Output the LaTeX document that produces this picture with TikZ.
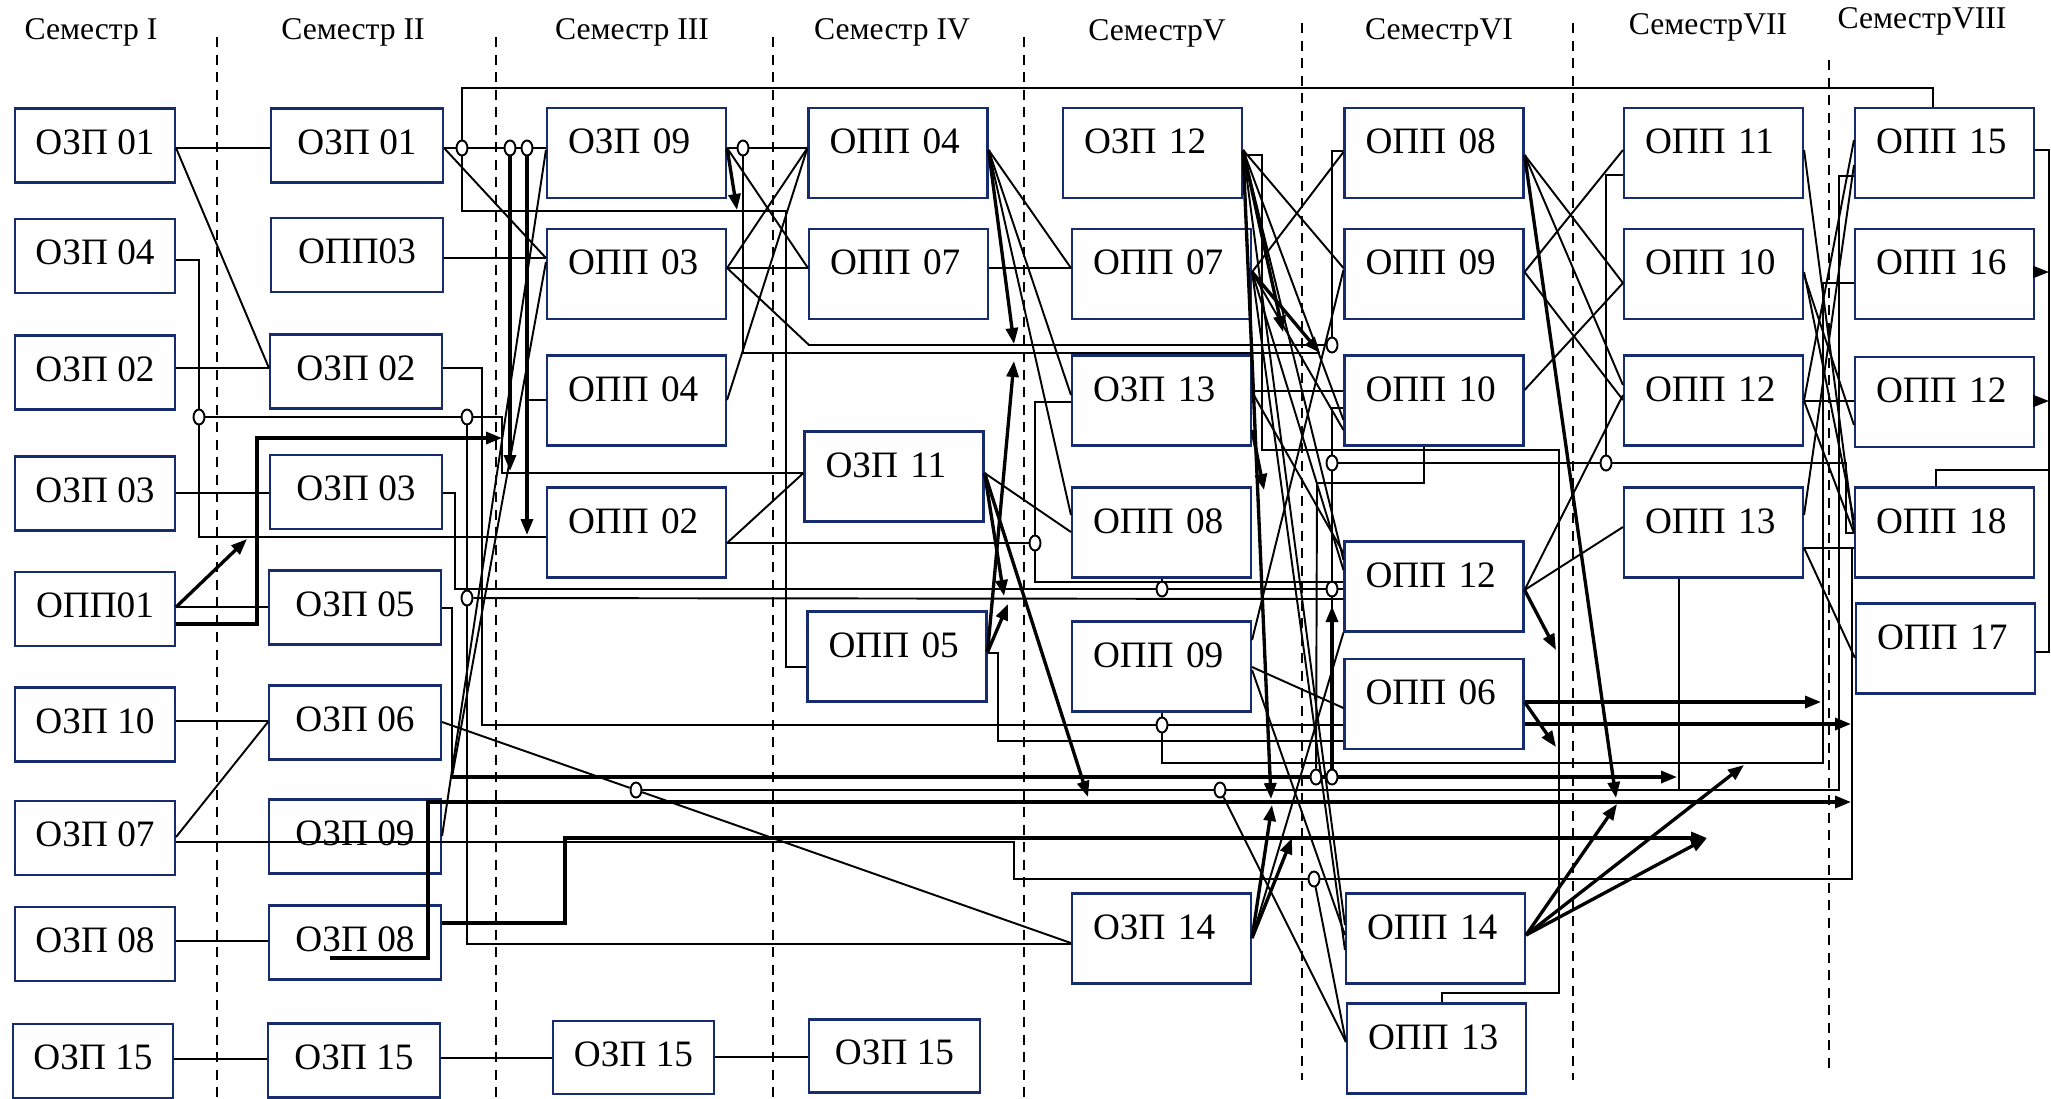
\documentclass[tikz,border=0pt]{standalone}
\usepackage{fontspec}
\setmainfont{Liberation Serif}
\usetikzlibrary{arrows.meta,shapes.geometric}
\definecolor{boxblue}{RGB}{22,44,110}

\begin{document}
\begin{tikzpicture}[x=0.1mm,y=-0.1mm,line width=0.55pt,
    kbox/.style={draw=boxblue,line width=0.6pt,inner sep=0pt,font=\fontsize{10.6}{12}\selectfont,text height=2.5mm},
    semone/.style={kbox,minimum width=16mm,minimum height=7.4mm,text depth=0.8mm},
    semtwo/.style={kbox,minimum width=17.2mm,minimum height=7.4mm,text depth=0.8mm},
    flatbox/.style={kbox,minimum height=7.3mm,text depth=0.8mm},
    upper/.style={kbox,minimum width=17.9mm,minimum height=9mm,text depth=2.4mm,text width=13.7mm,align=left},
    semhead/.style={inner sep=0pt,font=\fontsize{9}{11}\selectfont},
    divider/.style={line width=0.5pt,dash pattern=on 1mm off 0.75mm},
    junc/.style={draw,ellipse,fill=white,line width=0.55pt,inner sep=0pt,minimum width=1.1mm,minimum height=1.5mm},
    thk/.style={line width=0.95pt},
    tip/.style={-{Triangle[length=1.6mm,width=1.2mm]}}]
\useasboundingbox (0,0) rectangle (2051,1098);

% Semester headers
\node[semhead] (h1) at (91,32) {Семестр I};
\node[semhead] (h2) at (353,32) {Семестр II};
\node[semhead] (h3) at (632,32) {Семестр III};
\node[semhead] (h4) at (892,32) {Семестр IV};
\node[semhead] (h5) at (1157,33) {СеместрV};
\node[semhead] (h6) at (1439,32) {СеместрVI};
\node[semhead] (h7) at (1708,27) {СеместрVII};
\node[semhead] (h8) at (1922,21) {СеместрVIII};

% Semester borders
\foreach \x/\top/\bot in {217/37/1098,496/37/1098,773/37/1098,1024/37/1098,1302/23/1080,1573/23/1080,1829/60/1072}
  \draw[divider] (\x,\top) -- (\x,\bot);

% Semester I
\node[semone] (s1o01) at (95,145.5) {ОЗП 01};
\node[semone] (s1o04) at (95,256) {ОЗП 04};
\node[semone] (s1o02) at (95,372.5) {ОЗП 02};
\node[semone] (s1o03) at (95,493.5) {ОЗП 03};
\node[semone] (s1p01) at (95,609) {ОПП01};
\node[semone] (s1o10) at (95,724.5) {ОЗП 10};
\node[semone] (s1o07) at (95,838) {ОЗП 07};
\node[semone] (s1o08) at (95,944) {ОЗП 08};
\node[semone] (s1o15) at (93,1061) {ОЗП 15};

% Semester II
\node[semtwo] (s2o01) at (357,145.5) {ОЗП 01};
\node[semtwo] (s2p03) at (357,255) {ОПП03};
\node[semtwo] (s2o02) at (356,371.5) {ОЗП 02};
\node[semtwo] (s2o03) at (356,492) {ОЗП 03};
\node[semtwo] (s2o05) at (355,607.5) {ОЗП 05};
\node[semtwo] (s2o06) at (355,722.5) {ОЗП 06};
\node[semtwo] (s2o09) at (355,836.5) {ОЗП 09};
\node[semtwo] (s2o08) at (355,942.5) {ОЗП 08};
\node[semtwo] (s2o15) at (354,1060.5) {ОЗП 15};

% Semester III
\node[upper] (s3o09) at (636.5,153) {ОЗП 09};
\node[upper] (s3p03) at (636.5,274) {ОПП 03};
\node[upper] (s3p04) at (636.5,400.5) {ОПП 04};
\node[upper] (s3p02) at (636.5,532.5) {ОПП 02};
\node[flatbox,minimum width=16.1mm] (s3o15) at (633.5,1057.5) {ОЗП 15};

% Semester IV
\node[upper] (s4p04) at (898,153) {ОПП 04};
\node[upper] (s4p07) at (898.5,274) {ОПП 07};
\node[upper] (s4o11) at (894,476.5) {ОЗП 11};
\node[upper] (s4p05) at (897,656.5) {ОПП 05};
\node[flatbox,minimum width=17.1mm] (s4o15) at (894.5,1056) {ОЗП 15};

% Semester V
\node[upper] (s5o12) at (1152.5,153) {ОЗП 12};
\node[upper] (s5p07) at (1161.5,274) {ОПП 07};
\node[upper] (s5o13) at (1161.5,400.5) {ОЗП 13};
\node[upper] (s5p08) at (1161.5,532.5) {ОПП 08};
\node[upper] (s5p09) at (1161.5,666.5) {ОПП 09};
\node[upper] (s5o14) at (1161.5,938.5) {ОЗП 14};

% Semester VI
\node[upper] (s6p08) at (1434,153) {ОПП 08};
\node[upper] (s6p09) at (1434,274) {ОПП 09};
\node[upper] (s6p10) at (1434,400.5) {ОПП 10};
\node[upper] (s6p12) at (1434,586.5) {ОПП 12};
\node[upper] (s6p06) at (1434,704) {ОПП 06};
\node[upper] (s6p14) at (1435.5,938.5) {ОПП 14};
\node[upper] (s6p13) at (1436.5,1048.5) {ОПП 13};

% Semester VII
\node[upper] (s7p11) at (1713.5,153) {ОПП 11};
\node[upper] (s7p10) at (1713.5,274) {ОПП 10};
\node[upper] (s7p12) at (1713.5,400.5) {ОПП 12};
\node[upper] (s7p13) at (1713.5,532.5) {ОПП 13};

% Semester VIII
\node[upper] (s8p15) at (1944.5,153) {ОПП 15};
\node[upper] (s8p16) at (1944.5,274) {ОПП 16};
\node[upper] (s8p12) at (1944.5,402) {ОПП 12};
\node[upper] (s8p18) at (1944.5,532.5) {ОПП 18};
\node[upper] (s8p17) at (1945.5,648.5) {ОПП 17};

% Junctions
\foreach \n/\x/\y in {j1/462/148,j2/510/148,j3/527/148,j4/743/148,j5/199/417,j6/467/417,j7/467/598,
    j8/1035/543,j9/1162/589,j10/1332/589,j11/1332/345,j12/1332/463,j13/1606/463,j14/1162/725,
    j15/636/790,j16/1220/790,j17/1316/777,j18/1332/777,j19/1314/879}
  \node[junc] (\n) at (\x,\y) {};

% Free ends
\coordinate (tA) at (502,438);  \coordinate (tB) at (247,539);
\coordinate (tC) at (510,471);  \coordinate (tD) at (527,535);
\coordinate (tE) at (737,210);  \coordinate (tF) at (1014,344);
\coordinate (tG) at (1014,361); \coordinate (tH) at (1004,596);
\coordinate (tI) at (1008,604); \coordinate (tJ) at (1088,797);
\coordinate (tK) at (1320,353); \coordinate (tL) at (1283,332);
\coordinate (tM) at (1264,490); \coordinate (tN) at (1271,799);
\coordinate (tO) at (1272,805); \coordinate (tP) at (1292,838);
\coordinate (tQ) at (1332,606); \coordinate (tR) at (1556,650);
\coordinate (tS) at (1821,702); \coordinate (tT) at (1851,724);
\coordinate (tU) at (1556,747); \coordinate (tV) at (1617,804);
\coordinate (tVa) at (1616,798); \coordinate (tW) at (1744,765);
\coordinate (tX) at (1707,838); \coordinate (tY) at (1677,777);
\coordinate (tZ) at (1851,802);
\coordinate (e1) at (1852,548); \coordinate (e2) at (1679,790);
\coordinate (e3) at (330,958);  \coordinate (e4) at (2049,272);
\coordinate (e5) at (2049,401); \coordinate (e6) at (2049,470);
\coordinate (e7) at (452,777);  \coordinate (e8) at (527,400);

% Semester I -> II
\draw (s1o01.east |- 0,148) -- (s2o01.west |- 0,148);
\draw (s1o01.east |- 0,148) -- (s2o02.west |- 0,368);
\draw (s1o04.east |- 0,260) -| (j5);
\draw (j5) -- (199,537) -- (s3p02.west |- 0,537);
\draw (j5) -- (j6);
\draw (j6) -- (502,417) -- (502,473) -- (s4o11.west |- 0,473);
\draw (j6) -- (j7);
\draw (j7) -- (467,944) -- (s5o14.west |- 0,944);
\draw (j7) -- (s6p12.west |- 0,599);
\draw (s1o02.east |- 0,368) -- (s2o02.west |- 0,368);
\draw (s1o03.east |- 0,493) -- (s2o03.west |- 0,493);
\draw (s1p01.east |- 0,607) -- (s2o05.west |- 0,607);
\draw[thk,tip] (s1p01.east |- 0,607) -- (tB);
\draw[thk,tip] (s1p01.east |- 0,624) -- (257,624) -- (257,438) -- (tA);
\draw (s1o10.east |- 0,721) -- (s2o06.west |- 0,721);
\draw (s1o07.east |- 0,837) -- (s2o06.west |- 0,722);
\draw (s1o07.east |- 0,842) -- (1014,842) -- (1014,879) -- (j19);
\draw (j19) -- (1852,879) -- (e1);
\draw (s1o08.east |- 0,941) -- (s2o08.west |- 0,941);
\draw (s1o15.east |- 0,1059) -- (s2o15.west |- 0,1059);
\draw (s2o15.east |- 0,1058) -- (s3o15.west |- 0,1058);
\draw (s3o15.east |- 0,1057) -- (s4o15.west |- 0,1057);

% Semester II -> III
\draw (s2o01.east |- 0,148) -- (j1);
\draw (j1) -- (j2);
\draw (j2) -- (j3);
\draw (j3) -- (s3o09.west |- 0,148);
\draw (s2o01.east |- 0,148) -- (s3p03.west |- 0,258);
\draw (j1) -- (462,88) -- (1933,88) -- (s8p15.north -| 1933,0);
\draw (j1) -- (462,211) -- (786,211) -- (786,667) -- (s4p05.west |- 0,667);
\draw[thk,tip] (j2) -- (tC);
\draw[thk,tip] (j3) -- (tD);
\draw (e8) -- (s3p04.west |- 0,400);
\draw (s2p03.east |- 0,258) -- (s3p03.west |- 0,258);
\draw (s2o02.east |- 0,368) -- (482,368) -- (482,725) -- (j14);
\draw (j14) -- (s6p06.west |- 0,725);
\draw (s2o03.east |- 0,493) -- (455,493) -- (455,589) -- (j9);
\draw (j9) -- (j10);
\draw (j10) -- (s6p12.west |- 0,589);
\draw (s2o05.east |- 0,608) -- (452,608) -- (e7);
\draw[thk] (e7) -- (j17);
\draw[thk] (j17) -- (j18);
\draw[thk,tip] (j18) -- (tY);
\draw (e7) -- (s3p03.west |- 0,262);
\draw (s2o09.east |- 0,836) -- (s3o09.west |- 0,150);
\draw (s2o06.east |- 0,722) -- (j15);
\draw (j15) -- (s5o14.west |- 0,943);
\draw (j15) -- (j16);
\draw (j16) -- (1839,790) -- (1839,176) -- (s8p15.west |- 0,176);
\draw (j16) -- (s6p13.west |- 0,1042);
\draw[thk,tip] (s2o08.east |- 0,923) -- (565,923) -- (565,838) -- (tX);
\draw[thk,tip] (e3) -- (428,958) -- (428,802) -- (tZ);

% Semester III -> IV
\draw (s3o09.east |- 0,148) -- (j4);
\draw (j4) -- (s4p04.west |- 0,148);
\draw (j4) |- (tK);
\draw[thk,tip] (s3o09.east |- 0,148) -- (tE);
\draw (s3o09.east |- 0,148) -- (s4p07.west |- 0,268);
\draw (s3p03.east |- 0,268) -- (s4p04.west |- 0,148);
\draw (s3p03.east |- 0,268) -- (s4p07.west |- 0,268);
\draw (s3p03.east |- 0,268) -- (809,345) -- (j11);
\draw (j11) -- (1332,151) -- (s6p08.west |- 0,151);
\draw (s3p04.east |- 0,400) -- (s4p04.west |- 0,148);
\draw (s3p02.east |- 0,543) -- (s4o11.west |- 0,473);
\draw (s3p02.east |- 0,543) -- (j8);

% Semester IV -> V
\draw[thk,tip] (s4p04.east |- 0,150) -- (tF);
\draw (s4p04.east |- 0,150) -- (s5p07.west |- 0,268);
\draw (s4p04.east |- 0,150) -- (s5o13.west |- 0,395);
\draw (s4p04.east |- 0,150) -- (s5p08.west |- 0,515);
\draw (s4p07.east |- 0,268) -- (s5p07.west |- 0,268);
\draw (s4o11.east |- 0,473) -- (s5p08.west |- 0,532);
\draw[thk,tip] (s4o11.east |- 0,473) -- (tH);
\draw[thk,tip] (s4o11.east |- 0,473) -- (tJ);
\draw[thk,tip] (s4p05.east |- 0,652) -- (tG);
\draw[thk,tip] (s4p05.east |- 0,652) -- (tI);
\draw (s4p05.east |- 0,653) -- (998,653) -- (998,741) -- (s6p06.west |- 0,741);
\draw (s5o13.west |- 0,402) -- (1035,402) -- (j8);
\draw (j8) -- (1035,582) -- (s6p12.west |- 0,582);
\draw (s5p08.south -| j9) -- (j9);
\draw (s5p09.south -| j14) -- (j14);
\draw (j14) -- (1162,763) -- (1823,763) -- (1823,283) -- (s8p16.west |- 0,283);

% Semester V -> VI
\draw (s5o12.east |- 0,155) -- (1262,155) -- (1262,450) -- (1559,450) -- (1559,993) -- (1442,993) -- (s6p13.north -| 1442,0);
\draw (s5o12.east |- 0,150) -- (s6p09.west |- 0,268);
\draw[thk,tip] (s5o12.east |- 0,150) -- (tL);
\draw (s5o12.east |- 0,150) -- (s6p10.west |- 0,420);
\draw (s5o12.east |- 0,150) -- (s6p12.west |- 0,560);
\draw (s5o12.east |- 0,150) -- (s6p14.west |- 0,925);
\draw[thk,tip] (s5o12.east |- 0,152) -- (tN);
\draw (s5p07.east |- 0,272) -- (s6p08.west |- 0,152);
\draw[thk,tip] (s5p07.east |- 0,272) -- (tK);
\draw (s5p07.east |- 0,272) -- (s6p10.west |- 0,430);
\draw (s5p07.east |- 0,272) -- (s6p12.west |- 0,570);
\draw (s5p07.east |- 0,272) -- (s6p14.west |- 0,950);
\draw (s5o13.east |- 0,391) -- (s6p10.west |- 0,391);
\draw (s5o13.east |- 0,392) -- (s6p12.west |- 0,553);
\draw[thk,tip] (s5o13.east |- 0,430) -- (tM);
\draw (s5p09.east |- 0,640) -- (s6p09.west |- 0,270);
\draw (s5p09.east |- 0,667) -- (s6p06.west |- 0,708);
\draw (s5p09.east |- 0,670) -- (s6p14.west |- 0,935);
\draw (s5o14.east |- 0,938) -- (s6p12.south west);
\draw[thk,tip] (s5o14.east |- 0,938) -- (tO);
\draw[thk,tip] (s5o14.east |- 0,938) -- (tP);
\draw (s6p10.west |- 0,408) -- (1332,408) -- (j12);
\draw (j12) -- (j10);
\draw (j10) -- (j18);
\draw[thk,tip] (j18) -- (tQ);
\draw (s6p10.south -| 1424,0) -- (1424,483) -- (1317,483) -- (j17);
\draw (j12) -- (j13);
\draw (j13) -- (1846,463) -- (1846,533) -- (s8p18.west |- 0,533);
\draw (j19) -- (s6p13.west |- 0,1042);

% Semester VI -> VII
\draw (s6p08.east |- 0,155) -- (s7p10.west |- 0,283);
\draw (s6p08.east |- 0,155) -- (s7p12.west |- 0,385);
\draw[thk,tip] (s6p08.east |- 0,155) -- (tVa);
\draw (s6p09.east |- 0,272) -- (s7p11.west |- 0,150);
\draw (s6p09.east |- 0,272) -- (s7p12.west |- 0,400);
\draw (s6p10.east |- 0,390) -- (s7p10.west |- 0,283);
\draw (s6p12.east |- 0,590) -- (s7p12.west |- 0,395);
\draw (s6p12.east |- 0,590) -- (s7p13.west |- 0,527);
\draw[thk,tip] (s6p12.east |- 0,590) -- (tR);
\draw[thk,tip] (s6p06.east |- 0,702) -- (tS);
\draw[thk,tip] (s6p06.east |- 0,724) -- (tT);
\draw[thk,tip] (s6p06.east |- 0,702) -- (tU);
\draw[thk,tip] (s6p14.east |- 0,935) -- (tV);
\draw[thk,tip] (s6p14.east |- 0,935) -- (tW);
\draw[thk,tip] (s6p14.east |- 0,935) -- (tX);
\draw (s7p11.west |- 0,175) -- (1606,175) -- (j13);
\draw (s7p13.south -| e2) -- (e2);

% Semester VII -> VIII
\draw (s7p11.east |- 0,150) -- (s8p18.west |- 0,530);
\draw (s7p10.east |- 0,272) -- (s8p18.west |- 0,520);
\draw (s7p10.east |- 0,275) -- (s8p12.west |- 0,425);
\draw (s7p12.east |- 0,400) -- (s8p15.west |- 0,140);
\draw (s7p12.east |- 0,401) -- (s8p12.west |- 0,401);
\draw (s7p12.east |- 0,401) -- (s8p18.west |- 0,533);
\draw (s7p13.east |- 0,515) -- (s8p15.west |- 0,165);
\draw (s7p13.east |- 0,548) -- (s8p18.west |- 0,548);
\draw (s7p13.east |- 0,548) -- (s8p17.west |- 0,658);
\draw (s8p15.east |- 0,150) -- (2049,150) -- (2049,652) -- (s8p17.east |- 0,652);
\draw[tip] (s8p16.east |- 0,272) -- (e4);
\draw[tip] (s8p12.east |- 0,401) -- (e5);
\draw (s8p18.north -| 1936,0) -- (1936,470) -- (e6);
\end{tikzpicture}
\end{document}
